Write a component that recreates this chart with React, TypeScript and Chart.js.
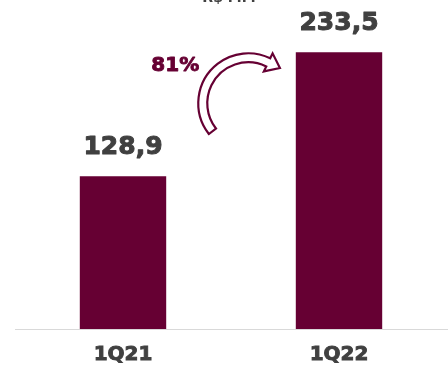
import React, { useEffect, useRef } from "react";
import { Chart, registerables } from "chart.js";

Chart.register(...registerables);

const categories = ["1Q21", "1Q22"];
const values = [128.9, 233.5];
const valueLabels = ["128,9", "233,5"];
const growthLabel = "81%";
const unitLabel = "R$ MM";

const MAROON = "#660033";
const TEXT = "#404040";
const FONT = "'DejaVu Sans', sans-serif";

function boldText(ctx: any, s: string, x: number, y: number, color: string, w: number) {
  ctx.fillStyle = color;
  ctx.strokeStyle = color;
  ctx.lineWidth = w;
  ctx.lineJoin = "round";
  ctx.fillText(s, x, y);
  ctx.strokeText(s, x, y);
}

const overlayPlugin = {
  id: "overlay",
  afterDatasetsDraw(chart: any) {
    const ctx = chart.ctx;
    const meta = chart.getDatasetMeta(0);
    const bars = meta.data;
    ctx.save();
    // unit label (cropped at top)
    ctx.fillStyle = TEXT;
    ctx.font = `bold 14px ${FONT}`;
    ctx.textAlign = "center";
    ctx.textBaseline = "alphabetic";
    ctx.fillText(unitLabel, (bars[0].x + bars[1].x) / 2 - 2, 2);

    // value labels
    ctx.font = `bold 25px ${FONT}`;
    ctx.textBaseline = "middle";
    bars.forEach((b: any, i: number) => {
      boldText(ctx, valueLabels[i], b.x, b.y - 29, TEXT, 1);
    });

    // curved arrow
    const l = bars[0];
    const r = bars[1];
    const cx = l.x + (r.x - l.x) * 0.58;
    const cy = r.y + 51;
    const rOut = 50;
    const rIn = 41;
    const a0 = (142 * Math.PI) / 180;
    const a1 = (296 * Math.PI) / 180;
    const rMid = (rOut + rIn) / 2;
    const tx = -Math.sin(a1);
    const ty = Math.cos(a1);
    const ux = Math.cos(a1);
    const uy = Math.sin(a1);
    const bx = cx + rMid * ux;
    const by = cy + rMid * uy;
    const half = 10;
    const headLen = 13;
    ctx.beginPath();
    ctx.arc(cx, cy, rOut, a0, a1, false);
    ctx.lineTo(bx + ux * half, by + uy * half);
    ctx.lineTo(bx + tx * headLen, by + ty * headLen);
    ctx.lineTo(bx - ux * half, by - uy * half);
    ctx.lineTo(cx + rIn * ux, cy + rIn * uy);
    ctx.arc(cx, cy, rIn, a1, a0, true);
    ctx.closePath();
    ctx.fillStyle = "#ffffff";
    ctx.fill();
    ctx.strokeStyle = MAROON;
    ctx.lineWidth = 2.2;
    ctx.lineJoin = "miter";
    ctx.stroke();

    // growth label
    ctx.font = `bold 20px ${FONT}`;
    ctx.textAlign = "center";
    ctx.textBaseline = "middle";
    boldText(ctx, growthLabel, cx - 73, cy - 37, MAROON, 0.9);
    ctx.restore();
  },
};

export default function App() {
  const ref = useRef<HTMLCanvasElement>(null);
  useEffect(() => {
    const chart = new Chart(ref.current!, {
      type: "bar",
      data: {
        labels: categories,
        datasets: [
          {
            data: values,
            backgroundColor: MAROON,
            barPercentage: 0.4,
            categoryPercentage: 1,
          },
        ],
      },
      options: {
        animation: false,
        responsive: true,
        maintainAspectRatio: false,
        layout: { padding: { top: 9, left: 15, right: 1, bottom: 4 } },
        plugins: { legend: { display: false }, tooltip: { enabled: false }, title: { display: false } },
        scales: {
          x: {
            grid: { display: false, drawTicks: false },
            border: { display: true, color: "#d9d9d9", width: 1 },
            afterFit: (s: any) => {
              s.height = 38;
            },
            ticks: {
              padding: 14,
              color: TEXT,
              textStrokeColor: TEXT,
              textStrokeWidth: 0.9,
              font: { family: FONT, size: 20, weight: "bold" },
            },
          },
          y: {
            display: false,
            min: 0,
            max: 270,
          },
        },
      },
      plugins: [overlayPlugin],
    });
    return () => chart.destroy();
  }, []);
  return (
    <div style={{ position: "fixed", left: 0, top: 0, width: 448, height: 371, background: "#fff" }}>
      <canvas ref={ref} />
    </div>
  );
}
